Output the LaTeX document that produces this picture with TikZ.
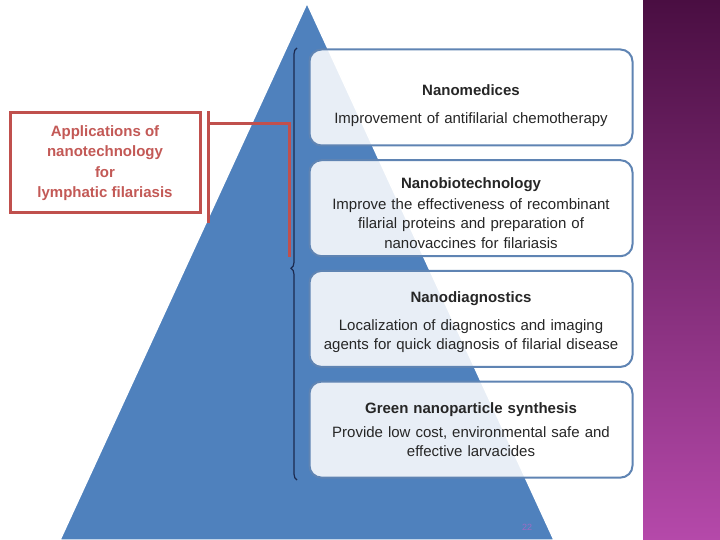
\documentclass[tikz,border=0pt]{standalone}
\usepackage{fontspec}
\setmainfont{Liberation Sans}
\usepackage{xcolor}
\usepackage{tikz}
\usetikzlibrary{positioning,calc,decorations.pathreplacing}

\definecolor{pyramidblue}{HTML}{4F81BD}
\definecolor{topicedge}{HTML}{5F84B3}
\definecolor{appred}{HTML}{C0504D}
\definecolor{bracenavy}{HTML}{1C2A4F}
\definecolor{stripdark}{HTML}{4A0E42}
\definecolor{striplight}{HTML}{B549AA}
\definecolor{pagepurple}{HTML}{9C6CC4}

\begin{document}
\begin{tikzpicture}[
  x=1pt, y=-1pt,
  node distance=14.7pt and 10pt,
  topic/.style={rectangle, rounded corners=12pt, draw=topicedge, line width=2pt, outer sep=0pt, fill=white, fill opacity=0.87, text opacity=1, text width=318pt, align=center, minimum width=323pt, minimum height=96pt, inner sep=0pt, font=\fontsize{15}{19.5}\selectfont, text=black!85},
  appbox/.style={rectangle, draw=appred, line width=3pt, fill=white, minimum width=190pt, minimum height=100pt, align=center, font=\fontsize{15}{20.5}\selectfont\bfseries, text=appred!95!white},
  redline/.style={draw=appred, line width=3pt},
  bracket/.style={decorate, decoration={brace, amplitude=6pt, aspect=0.49}, draw=bracenavy, line width=1.2pt}
]

\useasboundingbox (0,0) rectangle (720,540);

\fill[pyramidblue, draw=white, line width=1.5pt] (307,3) -- (554,540) -- (60,540) -- cycle;
\shade[top color=stripdark, bottom color=striplight] (643,0) rectangle (720,540);

\node[topic] (medi) at (471,97.5) {\rule{0pt}{27pt}\textbf{Nanomedices}\\[8pt] Improvement of antifilarial chemotherapy};
\node[topic, below=of medi] (biotech) {\rule{0pt}{20pt}\textbf{Nanobiotechnology}\\[1.5pt] Improve the effectiveness of recombinant\\ filarial proteins and preparation of\\ nanovaccines for filariasis};
\node[topic, below=of biotech] (diag) {\rule{0pt}{18pt}\textbf{Nanodiagnostics}\\[8pt] Localization of diagnostics and imaging\\ agents for quick diagnosis of filarial disease};
\node[topic, below=of diag] (green) {\textbf{Green nanoparticle synthesis}\\[4.5pt] Provide low cost, environmental safe and\\ effective larvacides};

\node[appbox] (app) at (105,163) {Applications of\\ nanotechnology\\ for\\ lymphatic filariasis};

\coordinate (bracetop) at (297,48);
\coordinate (bracebot) at (297,480);
\coordinate (bartop) at ($(app.north east)+(7,0)$);
\coordinate (barbot) at ($(app.south east)+(7,9)$);
\coordinate (barjoin) at ($(bartop)+(0,12)$);
\coordinate (bracetip) at (289,257);

\draw[bracket] (bracebot) -- (bracetop);
\draw[redline] (bartop) -- (barbot);
\draw[redline] (barjoin) -- (barjoin -| bracetip) -- (bracetip);

\node[font=\fontsize{9}{10}\selectfont, text=pagepurple] (pagenum) at (527,527) {22};

\end{tikzpicture}
\end{document}
